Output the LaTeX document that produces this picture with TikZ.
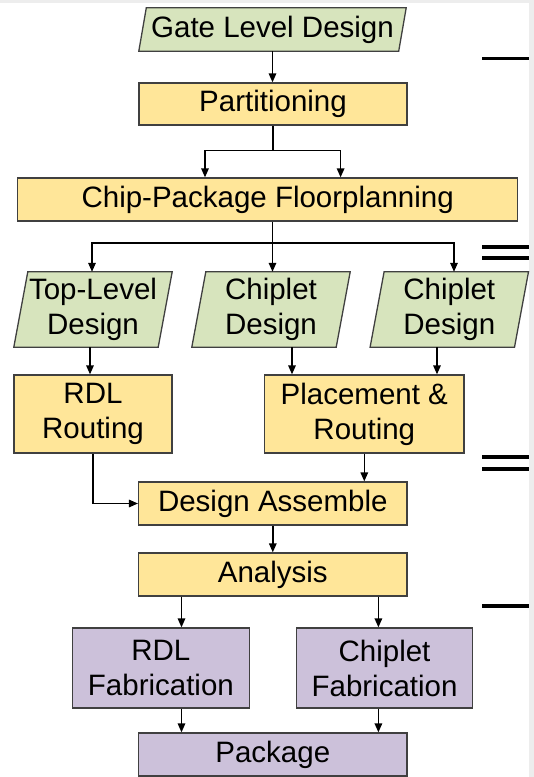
\documentclass[tikz,border=0pt]{standalone}
\usepackage{fontspec}
\setmainfont{Liberation Sans}
\usetikzlibrary{arrows.meta,backgrounds}
\definecolor{iogreen}{HTML}{D7E4BD}
\definecolor{stepyellow}{HTML}{FFE699}
\definecolor{fablilac}{HTML}{CCC1DA}
\definecolor{edge}{HTML}{404040}

\tikzset{
  lbl/.style={font=\fontsize{29.5}{35}\selectfont, align=center, inner sep=0pt},
  stepbox/.style={lbl, draw=edge, line width=1.3pt, fill=stepyellow},
  fabbox/.style={lbl, draw=edge, line width=1.3pt, fill=fablilac},
  iobox/.style={lbl},
  iofill/.style={fill=iogreen, draw=edge, line width=1.3pt, line join=miter},
  arr/.style={line width=1.5pt, -{Triangle[length=9pt,width=7.5pt]}},
  wire/.style={line width=1.5pt},
  bar/.style={line width=3.5pt},
}

% slanted input/output shape behind a named node: #1 node, #2 slant offset
\newcommand\ioshape[2]{%
  \filldraw[iofill] (#1.south west) -- ([xshift=-#2]#1.south east)
    -- (#1.north east) -- ([xshift=#2]#1.north west) -- cycle;}

\begin{document}
\begin{tikzpicture}[x=1pt,y=-1pt]
\useasboundingbox (0,0) rectangle (534,777);

% ---- nodes ----
\node[iobox, minimum width=267pt, minimum height=43pt] (gate) at (272.5,29.5) {Gate Level Design};
\node[stepbox, minimum width=268pt, minimum height=42pt] (part) at (273,104) {Partitioning};
\node[stepbox, minimum width=500pt, minimum height=43pt] (floor) at (267.7,199.5) {Chip-Package Floorplanning};

\node[iobox, minimum width=158pt, minimum height=75pt] (p1) at (93,309.5) {Top-Level\\Design};
\node[iobox, minimum width=158pt, minimum height=75pt] (p2) at (271,309.5) {Chiplet\\Design};
\node[iobox, minimum width=158pt, minimum height=75pt] (p3) at (449.3,309.5) {Chiplet\\Design};

\node[stepbox, minimum width=158pt, minimum height=78pt] (rdl) at (93,414) {RDL\\Routing};
\node[stepbox, minimum width=199.4pt, minimum height=78pt] (pr) at (364.3,414) {Placement \&\\Routing};

\node[stepbox, minimum width=268.4pt, minimum height=43pt] (da) at (272.8,503.5) {Design Assemble};
\node[stepbox, minimum width=268.4pt, minimum height=43pt] (ana) at (272.8,574.5) {Analysis};

\node[fabbox, minimum width=176.8pt, minimum height=80pt] (rfab) at (160.9,668) {RDL\\Fabrication};
\node[fabbox, minimum width=176.5pt, minimum height=80pt] (cfab) at (384.55,668) {Chiplet\\Fabrication};
\node[fabbox, minimum width=268.4pt, minimum height=43pt] (pkg) at (272.8,754.5) {Package};

% ---- page ground, edge strips and slanted data shapes ----
\begin{scope}[on background layer]
  \fill[white] (0,0) rectangle (534,777);
  \fill[black!7] (0,0) rectangle (534,3);
  \fill[black!7] (529,0) rectangle (534,777);
  \ioshape{gate}{7.5pt}
  \ioshape{p1}{14pt}
  \ioshape{p2}{14pt}
  \ioshape{p3}{14pt}
\end{scope}

% ---- helper columns ----
\coordinate (a1) at (205,0);
\coordinate (a2) at (340.6,0);
\coordinate (j2) at (272.5,243);
\coordinate (b1) at (92,0);
\coordinate (b3) at (454,0);
\coordinate (c1) at (90,0);
\coordinate (c2) at (292,0);
\coordinate (c3) at (437,0);
\coordinate (e1) at (181.5,0);
\coordinate (e2) at (378.4,0);

% ---- connectors ----
\draw[arr] (gate.south) -- (gate.south |- part.north);

\draw[wire] (part.south) -- ++(0,25) coordinate (j1);
\draw[arr] (j1) -| (a1 |- floor.north);
\draw[arr] (j1) -| (a2 |- floor.north);

\draw[wire] (j2 |- floor.south) -- (j2);
\draw[arr] (j2) -| (b1 |- p1.north);
\draw[arr] (j2) -- (j2 |- p2.north);
\draw[arr] (j2) -| (b3 |- p3.north);

\draw[arr] (c1 |- p1.south) -- (c1 |- rdl.north);
\draw[arr] (c2 |- p2.south) -- (c2 |- pr.north);
\draw[arr] (c3 |- p3.south) -- (c3 |- pr.north);

\draw[arr] (rdl.south) |- (da.west);
\draw[arr] (pr.south) -- (pr.south |- da.north);
\draw[arr] (da.south) -- (ana.north);

\draw[arr] (e1 |- ana.south) -- (e1 |- rfab.north);
\draw[arr] (e2 |- ana.south) -- (e2 |- cfab.north);
\draw[arr] (e1 |- rfab.south) -- (e1 |- pkg.north);
\draw[arr] (e2 |- cfab.south) -- (e2 |- pkg.north);

% ---- level marks at the right margin ----
\draw[bar] (482,58.7) -- (529,58.7);
\draw[bar] (482,247) -- (529,247);
\draw[bar] (482,258) -- (529,258);
\draw[bar] (482,457) -- (529,457);
\draw[bar] (482,469) -- (529,469);
\draw[bar] (482,606) -- (529,606);
\end{tikzpicture}
\end{document}
